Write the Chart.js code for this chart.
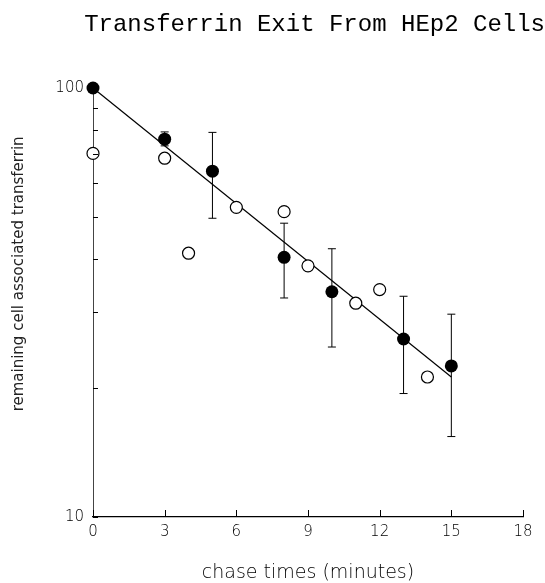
<!DOCTYPE html>
<html>
<head>
<meta charset="utf-8">
<script src="https://cdn.jsdelivr.net/npm/chart.js@4.4.1/dist/chart.umd.min.js"></script>
<style>
    html, body { margin: 0; padding: 0; background: #fff; }
    #wrap { width: 545px; height: 583px; position: relative; }
</style>
</head>
<body>
<div id="wrap"><canvas id="exitChart"></canvas></div>
<script>
// Values (log scale, percent remaining)
var titleText = 'Transferrin Exit From HEp2 Cells';
var xTitle = 'chase times (minutes)';
var yTitle = 'remaining cell associated transferrin';

var meanTimes = [0, 3, 5, 8, 10, 13, 15];
var meanValues = [100, 76, 64, 40.3, 33.5, 26, 22.5];
var errLow = [100, 73.3, 49.7, 32.4, 24.9, 19.4, 15.4];
var errHigh = [100, 79, 78.8, 48.4, 42.2, 32.7, 29.7];

var openTimes = [0, 3, 4, 6, 8, 9, 11, 12, 14];
var openValues = [70.4, 68.6, 41.2, 52.7, 51.5, 38.5, 31.5, 33.9, 21.2];

var fitTimes = [0, 15];
var fitValues = [100, 21.2];

var xTicks = [0, 3, 6, 9, 12, 15, 18];
var yTicks = [10, 20, 30, 40, 50, 60, 70, 80, 90, 100];
var yLabelled = [10, 100];

function toPoints(xs, ys) {
    return xs.map(function (x, i) { return { x: x, y: ys[i] }; });
}

// error bars drawn under the points, from the chart's own scales
var errorBars = {
    id: 'errorBars',
    beforeDatasetsDraw: function (chart) {
        var ctx = chart.ctx, xs = chart.scales.x, ys = chart.scales.y;
        ctx.save();
        ctx.strokeStyle = '#000';
        ctx.lineWidth = 1;
        meanTimes.forEach(function (t, i) {
            var px = xs.getPixelForValue(t);
            var top = ys.getPixelForValue(errHigh[i]);
            var bot = ys.getPixelForValue(errLow[i]);
            ctx.beginPath();
            ctx.moveTo(px, top); ctx.lineTo(px, bot);
            ctx.moveTo(px - 4, top); ctx.lineTo(px + 4, top);
            ctx.moveTo(px - 4, bot); ctx.lineTo(px + 4, bot);
            ctx.stroke();
        });
        ctx.restore();
    }
};

// tick marks pointing into the plot
var innerTicks = {
    id: 'innerTicks',
    afterDraw: function (chart) {
        var ctx = chart.ctx, xs = chart.scales.x, ys = chart.scales.y, area = chart.chartArea;
        ctx.save();
        ctx.strokeStyle = '#000';
        ctx.lineWidth = 1;
        ctx.beginPath();
        xs.ticks.forEach(function (t) {
            var px = Math.round(xs.getPixelForValue(t.value)) + 0.5;
            ctx.moveTo(px, area.bottom);
            ctx.lineTo(px, area.bottom - 7);
        });
        ys.ticks.forEach(function (t) {
            var py = Math.round(ys.getPixelForValue(t.value)) + 0.5;
            ctx.moveTo(area.left, py);
            ctx.lineTo(area.left + 5, py);
        });
        ctx.stroke();
        ctx.restore();
    }
};

var labelFont = { family: 'DejaVu Sans', size: 15, weight: '200' };

var ctx = document.getElementById('exitChart').getContext('2d');
new Chart(ctx, {
    type: 'scatter',
    data: {
        datasets: [
            {
                label: 'mean',
                data: toPoints(meanTimes, meanValues),
                pointRadius: 6.5,
                pointBackgroundColor: '#000',
                pointBorderColor: '#000',
                pointBorderWidth: 0,
                clip: false,
                order: 1
            },
            {
                label: 'single',
                data: toPoints(openTimes, openValues),
                pointRadius: 6,
                pointBackgroundColor: '#fff',
                pointBorderColor: '#000',
                pointBorderWidth: 1.2,
                clip: false,
                order: 2
            },
            {
                label: 'fit',
                type: 'line',
                data: toPoints(fitTimes, fitValues),
                borderColor: '#000',
                borderWidth: 1.2,
                pointRadius: 0,
                fill: false,
                clip: false,
                order: 3
            }
        ]
    },
    options: {
        responsive: true,
        maintainAspectRatio: false,
        animation: false,
        events: [],
        layout: { padding: 0 },
        plugins: {
            legend: { display: false },
            tooltip: { enabled: false },
            title: {
                display: true,
                text: titleText,
                align: 'end',
                color: '#000',
                font: { family: 'Liberation Mono', size: 24, weight: 'normal', lineHeight: 1.2 },
                padding: { top: 10, bottom: 49.2 }
            }
        },
        scales: {
            x: {
                type: 'linear',
                min: 0,
                max: 18,
                afterBuildTicks: function (s) { s.ticks = xTicks.map(function (v) { return { value: v }; }); },
                afterFit: function (s) { s.height = 66; },
                grid: { display: false, drawTicks: false },
                border: { display: true, color: '#000', width: 1.2 },
                ticks: { color: '#000', font: labelFont, padding: 6, maxRotation: 0 },
                title: {
                    display: true,
                    text: xTitle,
                    color: '#000',
                    font: { family: 'DejaVu Sans', size: 19, weight: '200', lineHeight: 1 },
                    padding: { top: 0, bottom: 0 }
                }
            },
            y: {
                type: 'logarithmic',
                min: 10,
                max: 100,
                afterBuildTicks: function (s) { s.ticks = yTicks.map(function (v) { return { value: v }; }); },
                afterFit: function (s) { s.width = 93; },
                grid: { display: false, drawTicks: false },
                border: { display: true, color: '#444', width: 1 },
                ticks: {
                    color: '#000',
                    font: labelFont,
                    padding: 9,
                    callback: function (v) { return yLabelled.indexOf(v) >= 0 ? String(v) : ''; }
                },
                title: {
                    display: true,
                    // leading blanks lift the label so it sits where the original does
                    text: '            ' + yTitle,
                    color: '#222',
                    font: { family: 'DejaVu Sans', size: 15, weight: 'normal', lineHeight: 1.2 },
                    padding: { top: 10, bottom: 0 }
                }
            },
            yRight: {
                type: 'linear',
                position: 'right',
                min: 0,
                max: 1,
                afterFit: function (s) { s.width = 22; },
                grid: { display: false, drawTicks: false },
                border: { display: false },
                ticks: { display: false }
            }
        }
    },
    plugins: [errorBars, innerTicks]
});
</script>
</body>
</html>
